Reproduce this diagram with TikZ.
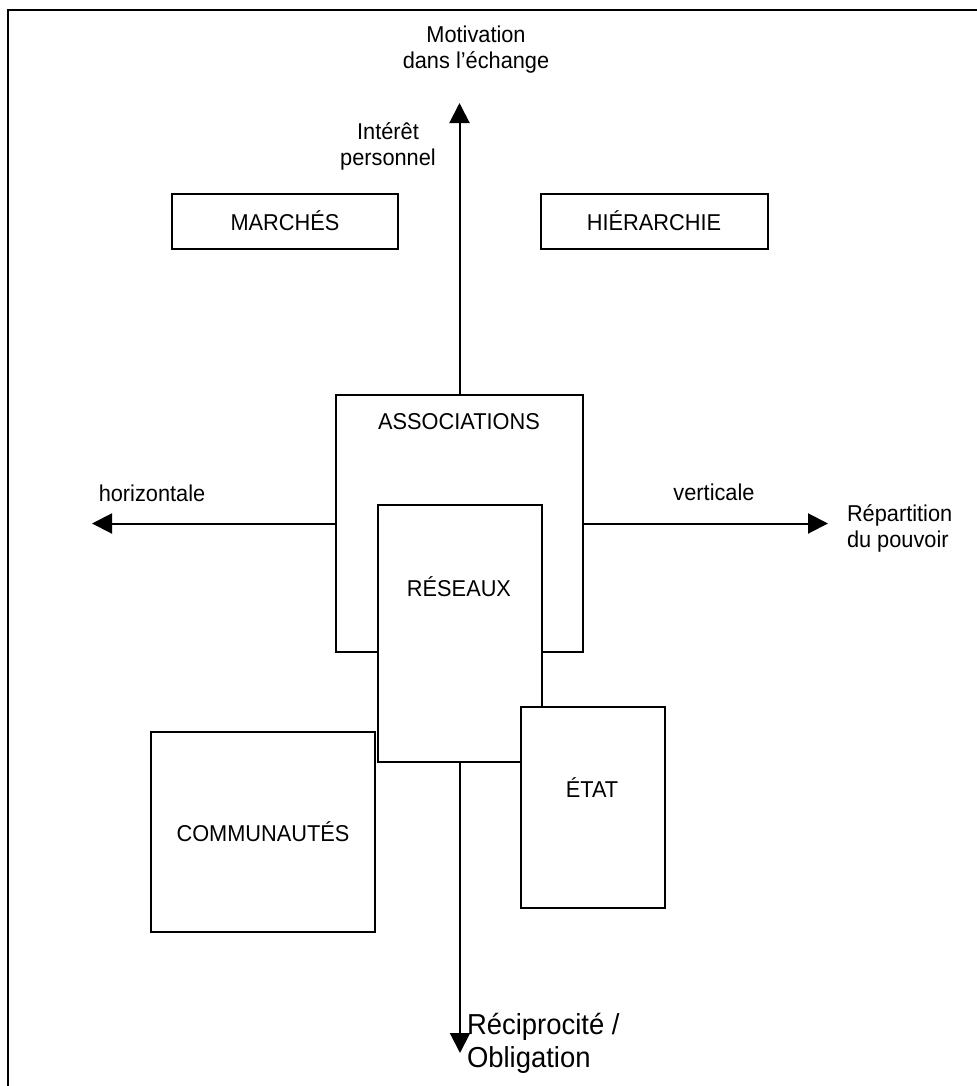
\documentclass[tikz,border=0pt]{standalone}
\usepackage{fontspec}
\setmainfont{Liberation Sans}[FakeStretch=0.95]
\usetikzlibrary{arrows.meta}
\begin{document}
\begin{tikzpicture}[x=1bp,y=-1bp,
  every node/.style={inner sep=0pt, outer sep=0pt},
  txt/.style={font=\fontsize{23}{26}\selectfont, align=center},
  bigtxt/.style={font=\fontsize{29}{33}\selectfont, align=left},
  box/.style={draw, fill=white, line width=2bp, rectangle},
  axis/.style={line width=2bp, -{Triangle[length=20bp,width=20bp]}}
]
\useasboundingbox (0,0) rectangle (977,1086);

% outer frame (open at the right and bottom)
\draw[line width=2bp] (8,1086) -- (8,10) -- (977,10);

% upper boxes
\node[box, minimum width=226bp, minimum height=55bp] (marches) at (285,221.5) {};
\node[txt] (marcheslbl) at (285,221) {MARCHÉS};
\node[box, minimum width=227bp, minimum height=55bp] (hier) at (654.5,221.5) {};
\node[txt] (hierlbl) at (654,221) {HIÉRARCHIE};

% central nested boxes
\node[box, minimum width=247bp, minimum height=257bp] (assoc) at (459.5,523.5) {};
\node[txt] (assoclbl) at (459,422) {ASSOCIATIONS};
\node[box, minimum width=164bp, minimum height=257bp] (reseaux) at (460,633.5) {};
\node[txt] (reseauxlbl) at (459,587) {RÉSEAUX};
\node[box, minimum width=144bp, minimum height=201bp] (etat) at (593,807.5) {};
\node[txt] (etatlbl) at (592,788) {ÉTAT};

% lower left box
\node[box, minimum width=224bp, minimum height=200bp] (commun) at (263,832) {};
\node[txt] (communlbl) at (263,832) {COMMUNAUTÉS};

% axis end points
\coordinate (ntip) at (459.5,103);
\coordinate (stip) at (460,1053);
\coordinate (wtip) at (92,523.5);
\coordinate (etip) at (828,523.5);

% axes
\draw[axis] (assoc.north) -- (ntip);
\draw[axis] (reseaux.south) -- (stip);
\draw[axis] (assoc.west) -- (wtip);
\draw[axis] (assoc.east) -- (etip);

% axis labels
\node[txt] (motiv) at (476,50) {Motivation\\dans l’échange};
\node[txt] (interet) at (388,146) {Intérêt\\personnel};
\node[txt] (horiz) at (152,493) {horizontale};
\node[txt] (vert) at (714,492) {verticale};
\node[txt, align=left, anchor=west] (repart) at (847,528) {Répartition\\du pouvoir};
\node[bigtxt, anchor=west] (recip) at (467,1043) {Réciprocité /\\Obligation};
\end{tikzpicture}
\end{document}
